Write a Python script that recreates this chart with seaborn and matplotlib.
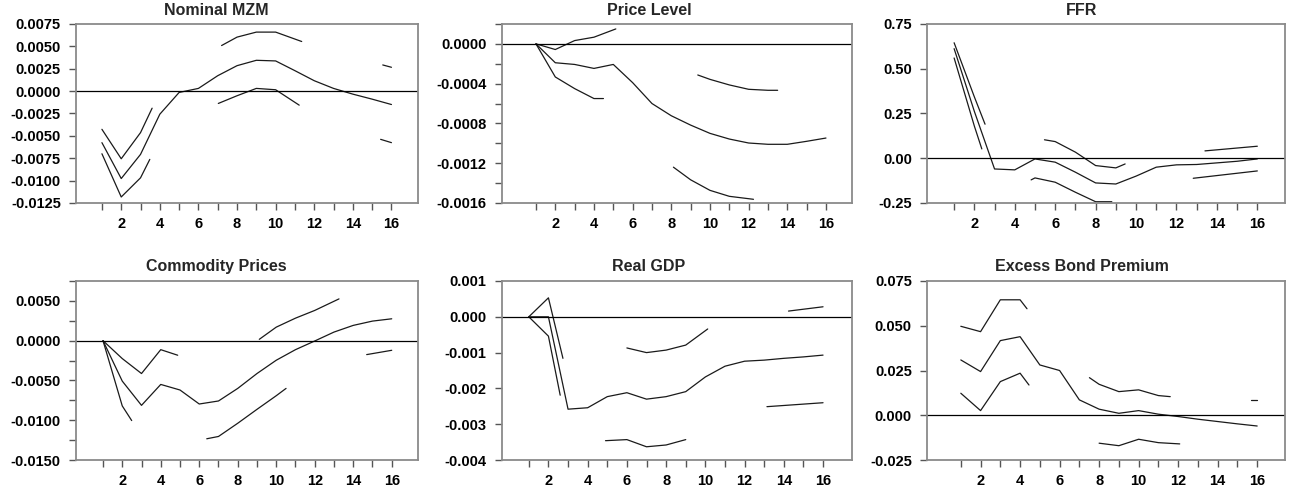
import matplotlib
matplotlib.use("Agg")
import matplotlib.pyplot as plt
import matplotlib.ticker as mticker
import seaborn as sns
import pandas as pd

# impulse responses, horizons 1..16; bands are drawn as broken pieces like the original
horizon = list(range(1, 17))

mzm_mid = [-0.00576, -0.00977, -0.00707, -0.00258, -0.00015, 0.0003, 0.00172, 0.00284,
           0.00344, 0.00337, 0.00228, 0.00116, 0.0003, -0.00034, -0.0009, -0.0015]
mzm_upper = [([1, 2, 3, 3.6], [-0.00427, -0.00756, -0.00464, -0.00191]),
             ([7.2, 8, 9, 10, 11.35], [0.00509, 0.00603, 0.00659, 0.00659, 0.00554]),
             ([15.55, 16], [0.00292, 0.00266])]
mzm_lower = [([1, 2, 3, 3.48], [-0.0070, -0.01183, -0.00969, -0.00763]),
             ([7.03, 8, 9, 10, 11.22], [-0.00138, -0.00052, 0.0003, 0.00015, -0.00157]),
             ([15.44, 16], [-0.00539, -0.00576])]

price_mid = [0.0, -0.00019, -0.000207, -0.000247, -0.000207, -0.00039, -0.0006, -0.000723,
             -0.000817, -0.0009, -0.000957, -0.000997, -0.00101, -0.00101, -0.00098, -0.000947]
price_upper = [([1, 2, 3, 4, 5.13], [0.0, -0.000057, 0.000033, 0.000067, 0.00015]),
               ([9.37, 10, 11, 12, 13, 13.5],
                [-0.000313, -0.000357, -0.000413, -0.000457, -0.000467, -0.000467])]
price_lower = [([1, 2, 3, 4, 4.49], [0.0, -0.000333, -0.00045, -0.00055, -0.00055]),
               ([8.11, 9, 10, 11, 12.25], [-0.00124, -0.001367, -0.001473, -0.001533, -0.001563])]

ffr_mid = [0.612, 0.262, -0.06, -0.065, -0.004, -0.022, -0.078, -0.138,
           -0.144, -0.10, -0.05, -0.037, -0.035, -0.026, -0.017, -0.004]
ffr_upper = [([1, 2, 2.53], [0.645, 0.343, 0.19]),
             ([5.47, 6, 7, 8, 9, 9.46], [0.103, 0.093, 0.034, -0.041, -0.054, -0.032]),
             ([13.41, 16], [0.041, 0.067])]
ffr_lower = [([1, 2, 2.37], [0.56, 0.18, 0.052]),
             ([4.81, 5, 6, 7, 8, 8.8], [-0.121, -0.11, -0.134, -0.19, -0.243, -0.243]),
             ([12.83, 16], [-0.112, -0.071])]

comm_mid = [0.0, -0.00508, -0.00813, -0.0055, -0.0062, -0.00796, -0.00758, -0.006,
            -0.00413, -0.00246, -0.00113, -0.00004, 0.00108, 0.00192, 0.00246, 0.00275]
comm_upper = [([1, 2, 3, 4, 4.88], [0.0, -0.00225, -0.00413, -0.00113, -0.00183]),
              ([9.12, 10, 11, 12, 13.26], [0.00017, 0.0017, 0.00283, 0.0038, 0.00525]),
              ([14.7, 16], [-0.00175, -0.00121])]
comm_lower = [([1, 2, 2.49], [0.0, -0.0082, -0.01004]),
              ([6.39, 7, 8, 9, 10, 10.51], [-0.01233, -0.01204, -0.01038, -0.00863, -0.00692, -0.006])]

gdp_mid = [0.0, 0.0, -0.00258, -0.00254, -0.00223, -0.00212, -0.0023, -0.00223,
           -0.00209, -0.00168, -0.00138, -0.00124, -0.00121, -0.00116, -0.00112, -0.00107]
gdp_upper = [([1, 2, 2.74], [0.0, 0.00053, -0.00116]),
             ([6, 7, 8, 9, 10.12], [-0.00087, -0.001, -0.00093, -0.00079, -0.00034]),
             ([14.24, 16], [0.00016, 0.00028])]
gdp_lower = [([1, 2, 2.6], [0.0, -0.00054, -0.00219]),
             ([4.91, 6, 7, 8, 9], [-0.00346, -0.00343, -0.00363, -0.00358, -0.00343]),
             ([13.14, 16], [-0.00251, -0.0024])]

ebp_mid = [0.0309, 0.0244, 0.0417, 0.0439, 0.0281, 0.025, 0.0086, 0.0034,
           0.0011, 0.0026, 0.0006, -0.0007, -0.0022, -0.0035, -0.0048, -0.006]
ebp_upper = [([1, 2, 3, 4, 4.35], [0.0497, 0.0467, 0.0645, 0.0645, 0.0595]),
             ([7.51, 8, 9, 10, 11, 11.6], [0.021, 0.0173, 0.0132, 0.0142, 0.011, 0.0104]),
             ([15.7, 16], [0.0086, 0.0086])]
ebp_lower = [([1, 2, 3, 4, 4.45], [0.0123, 0.0026, 0.0188, 0.0235, 0.0169]),
             ([8, 9, 10, 11, 12.08], [-0.0156, -0.017, -0.0134, -0.0153, -0.016])]

titles = ["Nominal MZM", "Price Level", "FFR",
          "Commodity Prices", "Real GDP", "Excess Bond Premium"]
mids = [mzm_mid, price_mid, ffr_mid, comm_mid, gdp_mid, ebp_mid]
uppers = [mzm_upper, price_upper, ffr_upper, comm_upper, gdp_upper, ebp_upper]
lowers = [mzm_lower, price_lower, ffr_lower, comm_lower, gdp_lower, ebp_lower]

# axis settings: ylim, major step, minor step, label format, xlim
ylims = [(-0.0125, 0.0075), (-0.0016, 0.0002), (-0.25, 0.75),
         (-0.015, 0.0075), (-0.004, 0.001), (-0.025, 0.075)]
ysteps = [0.0025, 0.0004, 0.25, 0.005, 0.001, 0.025]
yminor = [None, 0.0002, None, 0.0025, None, None]
yfmts = ["%.4f", "%.4f", "%.2f", "%.4f", "%.3f", "%.3f"]
xlims = [(-0.34, 17.38), (-0.76, 17.34), (-0.34, 17.37),
         (-0.4, 17.37), (-0.37, 17.47), (-0.71, 17.41)]


def make_fmt(fmt):
    # avoid "-0.0000" at the zero tick
    return mticker.FuncFormatter(lambda v, p: fmt % (0.0 if abs(v) < 1e-12 else v))


sns.set_theme(style="white")
plt.rcParams["font.family"] = ["Liberation Sans", "DejaVu Sans"]
plt.rcParams["font.weight"] = "bold"
plt.rcParams["axes.unicode_minus"] = False

fig = plt.figure(figsize=(12.98, 4.91), dpi=100)

col_left = [0.0586, 0.3867, 0.7142]
col_width = [0.2635, 0.2696, 0.2758]
row_bottom = [0.5866, 0.0631]
row_height = 0.3646
title_y = [0.978, 0.457]

for i in range(6):
    r, c = divmod(i, 3)
    ax = fig.add_axes([col_left[c], row_bottom[r], col_width[c], row_height])

    # long table: every line piece gets its own unit id
    rows = []
    seg = 0
    for h, v in zip(horizon, mids[i]):
        rows.append((h, v, seg))
    for xs, ys in uppers[i] + lowers[i]:
        seg += 1
        for h, v in zip(xs, ys):
            rows.append((h, v, seg))
    df = pd.DataFrame(rows, columns=["h", "value", "seg"])

    sns.lineplot(data=df, x="h", y="value", units="seg", estimator=None,
                 color="#1a1a1a", linewidth=0.9, legend=False, ax=ax)
    ax.axhline(0, color="black", linewidth=0.9)

    ax.set_xlim(*xlims[i])
    ax.set_ylim(*ylims[i])
    ax.xaxis.set_major_locator(mticker.FixedLocator(range(2, 17, 2)))
    ax.xaxis.set_minor_locator(mticker.FixedLocator(range(1, 16, 2)))
    ax.yaxis.set_major_locator(mticker.MultipleLocator(ysteps[i]))
    if yminor[i]:
        ax.yaxis.set_minor_locator(mticker.MultipleLocator(yminor[i]))
    ax.yaxis.set_major_formatter(make_fmt(yfmts[i]))
    ax.set_xlabel("")
    ax.set_ylabel("")

    ax.tick_params(axis="both", which="both", direction="out", length=5, width=1,
                   color="#555555", labelsize=10.5, labelcolor="black")
    ax.tick_params(axis="x", which="major", pad=5)
    ax.tick_params(axis="y", which="major", pad=6)
    ax.tick_params(bottom=True, left=True, which="both")
    for sp in ax.spines.values():
        sp.set_color("#8a8a8a")
        sp.set_linewidth(1.3)

    fig.text((2 * c + 1) / 6, title_y[r], titles[i], ha="center", va="center",
             fontsize=11.5, fontweight="bold")

fig.savefig("out.png", dpi=100)
